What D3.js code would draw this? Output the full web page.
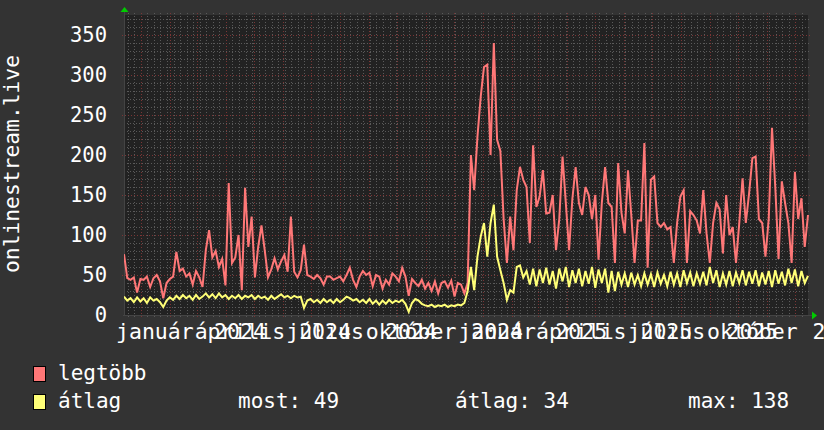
<!DOCTYPE html>
<html><head><meta charset="utf-8">
<script src="https://cdn.jsdelivr.net/npm/d3@7/dist/d3.min.js"></script>
<style>
html,body{margin:0;padding:0;background:#333333;}
svg{display:block;}
text{font-family:"DejaVu Sans Mono",monospace;fill:#ffffff;}
</style></head><body>
<svg id="chart" width="824" height="430"></svg>
<script>
// ---- data ----
const startDate = new Date(2023, 11, 14);
const stepDays = 3.5;
const legtobb = [
76,46,44,47,28,45,44,48,35,46,50,42,21,40,45,48,79,55,58,48,
52,38,55,47,35,81,106,72,80,60,70,37,165,65,72,100,31,159,85,123,
47,85,112,81,47,57,71,57,67,75,54,123,54,47,56,88,50,48,45,50,
46,38,48,48,44,46,48,42,50,59,44,35,48,55,50,53,36,50,48,33,
44,38,52,48,42,59,48,24,45,40,36,44,33,40,30,42,27,40,42,34,
43,23,40,38,27,40,200,156,223,273,310,313,200,340,219,205,120,65,123,81,
156,185,169,160,90,212,135,148,181,127,128,150,81,120,198,140,81,145,185,140,
125,160,150,120,150,69,140,185,140,135,65,190,128,102,181,125,65,118,118,215,
59,169,173,115,110,115,107,110,65,115,148,156,65,130,125,118,102,156,102,65,
115,140,132,77,150,100,110,65,115,171,115,152,196,198,120,115,73,120,234,160,
70,167,140,115,65,179,120,146,85,125];
const atlag = [
23,18,21,16,22,17,21,15,22,18,20,16,10,18,22,19,24,20,25,21,
24,19,25,20,23,27,22,26,21,27,22,25,20,24,21,25,20,24,22,25,
20,24,21,23,19,24,20,23,26,22,24,21,24,22,23,9,18,20,16,19,
15,20,16,19,15,20,16,19,23,21,18,20,16,19,15,20,14,18,13,18,
14,19,15,18,16,19,14,4,15,20,18,14,12,11,13,10,12,11,13,10,
12,11,13,12,15,30,60,31,73,98,115,73,115,138,73,56,40,19,31,28,
60,62,47,55,38,58,36,57,40,59,38,55,33,58,42,60,35,56,40,58,
36,55,39,60,34,57,40,58,28,55,30,54,38,52,35,53,38,50,36,52,
38,51,35,53,39,50,36,54,38,52,35,56,40,53,36,52,39,54,37,60,
40,56,35,52,38,55,36,53,40,56,37,54,39,56,36,53,38,55,35,56,
39,54,37,58,40,57,36,55,40,49];
const yTicks = [0, 50, 100, 150, 200, 250, 300, 350];
const monthLabels = ["január","április","július","október","január","április","július","október"];
const monthTickDates = ["2024-01-01","2024-04-01","2024-07-01","2024-10-01","2025-01-01","2025-04-01","2025-07-01","2025-10-01"];
const yearLabels = ["2024","2024","2024","2024","2025","2025","2025","2025"];
const yearTickDates = ["2024-04-01","2024-07-01","2024-10-01","2025-01-01","2025-04-01","2025-07-01","2025-10-01","2026-01-01"];
const seriesNames = ["legtöbb", "átlag"];
const statLabels = ["most: 49", "átlag: 34", "max: 138"];
const yTitle = "onlinestream.live";

// ---- styles / layout ----
const colors = ["#ff7777", "#ffff77"];
const L = 124, R = 808, T = 15, B = 315;
const labelShiftDays = 15; // labels centred half a month after their tick

const svg = d3.select("#chart");
svg.append("rect").attr("width", 824).attr("height", 430).attr("fill", "#333333");
svg.append("rect").attr("x", L).attr("y", T).attr("width", R - L).attr("height", B - T).attr("fill", "#222222");

const parse = s => { const p = s.split("-").map(Number); return new Date(p[0], p[1] - 1, p[2] + labelShiftDays); };
const dayMs = 86400000;
const dates = legtobb.map((_, i) => new Date(startDate.getTime() + i * stepDays * dayMs));
const endDate = dates[dates.length - 1];

const x = d3.scaleTime().domain([startDate, endDate]).range([L, R]);
const y = d3.scaleLinear().domain([0, 375]).range([B, T]);

// grid
const grid = svg.append("g");
const minorY = d3.range(10, 375, 10).filter(v => v % 50 !== 0);
grid.selectAll(".hmin").data(minorY).join("line")
  .attr("x1", L).attr("x2", R + 2).attr("y1", d => Math.round(y(d)) + 0.5).attr("y2", d => Math.round(y(d)) + 0.5)
  .attr("stroke", "#5a5a5a").attr("stroke-dasharray", "1,2");
const weeks = d3.timeMonday.range(startDate, endDate);
grid.selectAll(".vmin").data(weeks).join("line")
  .attr("x1", d => Math.round(x(d)) + 0.5).attr("x2", d => Math.round(x(d)) + 0.5)
  .attr("y1", T - 2).attr("y2", B + 2)
  .attr("stroke", "#5a5a5a").attr("stroke-dasharray", "1,2");
const months = d3.timeMonth.range(startDate, endDate);
grid.selectAll(".vmaj").data(months).join("line")
  .attr("x1", d => Math.round(x(d)) + 0.5).attr("x2", d => Math.round(x(d)) + 0.5)
  .attr("y1", T - 2).attr("y2", B + 3)
  .attr("stroke", "#7a3535").attr("stroke-dasharray", "1,2");
grid.selectAll(".hmaj").data(yTicks.filter(v => v > 0)).join("line")
  .attr("x1", L - 2).attr("x2", R + 3).attr("y1", d => Math.round(y(d)) + 0.5).attr("y2", d => Math.round(y(d)) + 0.5)
  .attr("stroke", "#7a3535").attr("stroke-dasharray", "1,2");

// axes lines
svg.append("line").attr("x1", L - 1).attr("x2", R + 4).attr("y1", B + 0.5).attr("y2", B + 0.5).attr("stroke", "#444444");
svg.append("line").attr("x1", L + 0.5).attr("x2", L + 0.5).attr("y1", T - 4).attr("y2", B + 1).attr("stroke", "#444444");
svg.append("path").attr("d", `M${R + 4},${B - 3.5} L${R + 9},${B + 0.5} L${R + 4},${B + 4.5} Z`).attr("fill", "#00cc00");
svg.append("path").attr("d", `M${L - 3.5},${T - 3} L${L + 0.5},${T - 8} L${L + 4.5},${T - 3} Z`).attr("fill", "#00cc00");

// lines
svg.append("clipPath").attr("id", "pc").append("rect")
  .attr("x", L).attr("y", T).attr("width", R - L + 1).attr("height", B - T);
const line = d3.line().x((d, i) => x(dates[i])).y(d => y(d));
[legtobb, atlag].forEach((s, k) => {
  svg.append("path").datum(s).attr("d", line)
    .attr("fill", "none").attr("stroke", colors[k]).attr("stroke-width", 2)
    .attr("stroke-linejoin", "miter").attr("clip-path", "url(#pc)");
});

// y axis labels
const yAxis = d3.axisLeft(y).tickValues(yTicks).tickSize(0).tickPadding(17).tickFormat(d3.format("d"));
const gy = svg.append("g").attr("transform", `translate(${L},0)`).call(yAxis);
gy.select(".domain").remove();
gy.selectAll("text").attr("font-size", 20.5).attr("fill", "#ffffff").attr("font-family", "DejaVu Sans Mono");

// x labels
svg.append("g").selectAll("text").data(monthLabels).join("text")
  .attr("x", (d, i) => x(parse(monthTickDates[i]))).attr("y", 339)
  .attr("text-anchor", "middle").attr("font-size", 21.5).text(d => d);
svg.append("g").selectAll("text").data(yearLabels).join("text")
  .attr("x", (d, i) => x(parse(yearTickDates[i]))).attr("y", 339)
  .attr("text-anchor", "middle").attr("font-size", 21.5).text(d => d);

// y title
svg.append("text").attr("transform", "translate(19,164) rotate(-90)")
  .attr("text-anchor", "middle").attr("font-size", 21.3).text(yTitle);

// legend
const leg = svg.append("g");
seriesNames.forEach((n, k) => {
  const yy = 366 + k * 28;
  leg.append("rect").attr("x", 33.5).attr("y", yy + 0.5).attr("width", 12).attr("height", 15)
    .attr("fill", colors[k]).attr("stroke", "#000000");
  leg.append("text").attr("x", 58).attr("y", yy + 14).attr("font-size", 21).text(n);
});
const statX = [238, 455, 688];
statLabels.forEach((s, k) => {
  leg.append("text").attr("x", statX[k]).attr("y", 408).attr("font-size", 21).text(s);
});
</script>
</body></html>
